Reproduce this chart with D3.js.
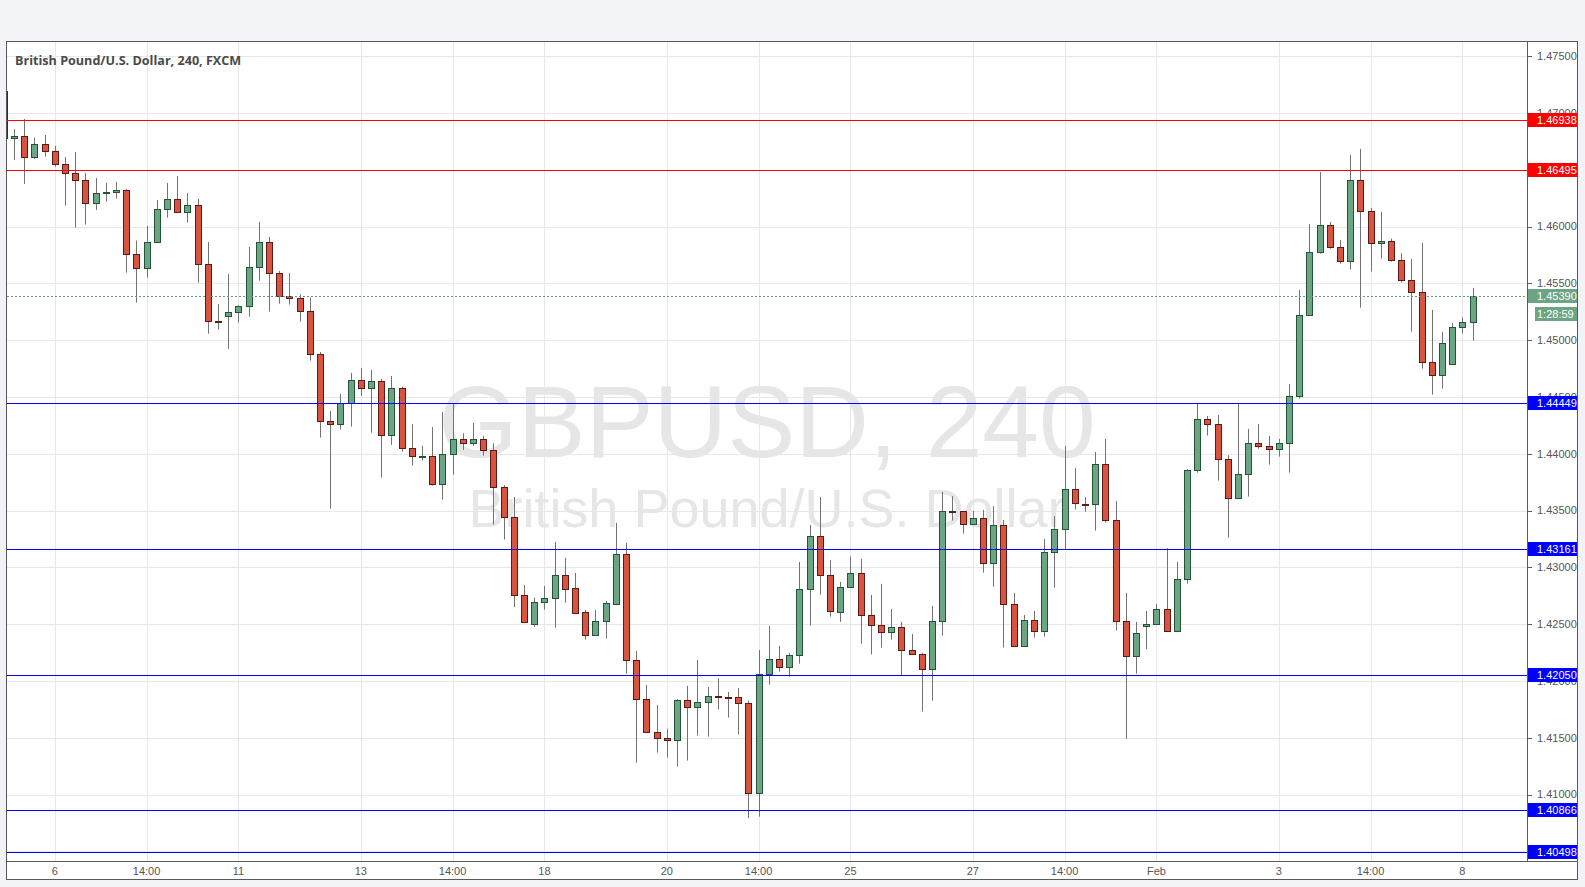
<!DOCTYPE html>
<html><head><meta charset="utf-8">
<script src="https://cdn.jsdelivr.net/npm/d3@7"></script>
<style>
html,body{margin:0;padding:0;background:#f2f3f6;}
svg{display:block;}
</style></head><body>
<svg id="chart" width="1585" height="887"></svg>
<script>
// ---------------- DATA ----------------
const title = "British Pound/U.S. Dollar, 240, FXCM";
const watermark1 = "GBPUSD, 240";
const watermark2 = "British Pound/U.S. Dollar";
const firstIndex = -1; // first (partly hidden) bar index

const opens = [1.47193,1.46777,1.46797,1.46610,1.46724,1.46663,1.46548,1.46469,1.46407,1.46205,1.46293,1.46302,1.46319,1.45756,1.45633,1.45862,1.46152,1.46240,1.46126,1.46187,1.45668,1.45167,1.45211,1.45246,1.45299,1.45642,1.45862,1.45589,1.45387,1.45369,1.45255,1.44876,1.44287,1.44260,1.44445,1.44650,1.44577,1.44639,1.44163,1.44577,1.44049,1.43979,1.43979,1.43737,1.43996,1.44128,1.44093,1.44128,1.44031,1.43706,1.43442,1.42755,1.42500,1.42694,1.42729,1.42931,1.42817,1.42606,1.42409,1.42527,1.42681,1.43119,1.42183,1.41840,1.41550,1.41497,1.41479,1.41831,1.41770,1.41814,1.41867,1.41860,1.41858,1.41805,1.41013,1.42060,1.42192,1.42122,1.42227,1.42808,1.43275,1.42931,1.42606,1.42826,1.42949,1.42579,1.42491,1.42430,1.42474,1.42271,1.42236,1.42104,1.42527,1.43495,1.43495,1.43380,1.43433,1.43037,1.43371,1.42679,1.42307,1.42535,1.42439,1.43134,1.43336,1.43688,1.43561,1.43556,1.43908,1.43415,1.42527,1.42219,1.42483,1.42500,1.42632,1.42439,1.42896,1.43855,1.44304,1.44260,1.43952,1.43609,1.43820,1.44093,1.44067,1.44045,1.44093,1.44507,1.45219,1.45774,1.46011,1.45818,1.45695,1.46407,1.46135,1.45853,1.45871,1.45703,1.45527,1.45422,1.44806,1.44691,1.44788,1.45114,1.45158];
const highs = [1.47210,1.46859,1.46947,1.46782,1.46806,1.46709,1.46612,1.46656,1.46472,1.46428,1.46384,1.46392,1.46331,1.45876,1.46005,1.46234,1.46384,1.46445,1.46296,1.46243,1.45864,1.45319,1.45583,1.45307,1.45820,1.46040,1.45908,1.45609,1.45592,1.45404,1.45374,1.44896,1.44377,1.44527,1.44712,1.44756,1.44738,1.44659,1.44685,1.44591,1.44260,1.44069,1.44236,1.44368,1.44445,1.44181,1.44272,1.44157,1.44093,1.43723,1.43620,1.42846,1.42734,1.42837,1.43224,1.43084,1.42952,1.42626,1.42626,1.42705,1.43392,1.43216,1.42265,1.41966,1.41790,1.41579,1.41840,1.41957,1.42186,1.41948,1.42025,1.41904,1.41940,1.41828,1.42274,1.42485,1.42309,1.42245,1.43048,1.43374,1.43620,1.43066,1.42872,1.43095,1.43075,1.42758,1.42855,1.42635,1.42520,1.42415,1.42250,1.42661,1.43664,1.43627,1.43495,1.43497,1.43506,1.43539,1.43418,1.42776,1.42582,1.42617,1.43251,1.43451,1.44069,1.43876,1.43620,1.44016,1.44131,1.43585,1.42776,1.42520,1.42617,1.42679,1.43169,1.43048,1.43864,1.44445,1.44333,1.44342,1.43987,1.44445,1.44219,1.44263,1.44157,1.44131,1.44615,1.45442,1.46023,1.46480,1.46040,1.45882,1.46630,1.46683,1.46164,1.46128,1.45893,1.45765,1.45715,1.45856,1.45266,1.45072,1.45152,1.45202,1.45460];
const lows = [1.46760,1.46586,1.46375,1.46595,1.46615,1.46527,1.46184,1.45990,1.46017,1.46146,1.46219,1.46245,1.45594,1.45330,1.45550,1.45862,1.46078,1.46126,1.46034,1.45506,1.45057,1.45093,1.44923,1.45154,1.45207,1.45524,1.45251,1.45321,1.45313,1.45163,1.44820,1.44142,1.43517,1.44213,1.44239,1.44509,1.44186,1.43790,1.44078,1.44019,1.43896,1.43940,1.43720,1.43597,1.43817,1.44034,1.44069,1.43984,1.43377,1.43245,1.42650,1.42518,1.42476,1.42629,1.42470,1.42690,1.42602,1.42365,1.42400,1.42373,1.42673,1.42065,1.41282,1.41550,1.41370,1.41326,1.41247,1.41300,1.41520,1.41511,1.41749,1.41678,1.41529,1.40793,1.40807,1.41969,1.42083,1.42039,1.42153,1.42488,1.42761,1.42567,1.42520,1.42826,1.42329,1.42233,1.42294,1.42365,1.42051,1.42236,1.41731,1.41828,1.42400,1.43412,1.43297,1.43371,1.42954,1.42831,1.42294,1.42298,1.42307,1.42382,1.42391,1.42822,1.43160,1.43509,1.43491,1.43324,1.43394,1.42444,1.41491,1.42065,1.42280,1.42500,1.42439,1.42430,1.42857,1.43834,1.44160,1.43764,1.43262,1.43609,1.43623,1.44045,1.43905,1.43975,1.43834,1.44485,1.45219,1.45761,1.45805,1.45673,1.45621,1.45286,1.45603,1.45717,1.45691,1.45506,1.45075,1.44749,1.44521,1.44573,1.44788,1.45057,1.44996];
const closes = [1.46777,1.46797,1.46610,1.46724,1.46663,1.46548,1.46469,1.46407,1.46205,1.46293,1.46302,1.46319,1.45756,1.45633,1.45862,1.46152,1.46240,1.46126,1.46187,1.45668,1.45167,1.45160,1.45246,1.45301,1.45642,1.45862,1.45589,1.45387,1.45369,1.45255,1.44876,1.44287,1.44260,1.44445,1.44650,1.44577,1.44641,1.44163,1.44577,1.44049,1.43979,1.43981,1.43737,1.43996,1.44128,1.44093,1.44128,1.44031,1.43706,1.43442,1.42755,1.42518,1.42694,1.42729,1.42931,1.42813,1.42602,1.42409,1.42527,1.42685,1.43119,1.42183,1.41840,1.41550,1.41497,1.41479,1.41834,1.41770,1.41814,1.41867,1.41863,1.41858,1.41805,1.41013,1.42060,1.42192,1.42122,1.42227,1.42808,1.43275,1.42931,1.42615,1.42826,1.42949,1.42579,1.42491,1.42430,1.42474,1.42271,1.42236,1.42104,1.42527,1.43495,1.43491,1.43380,1.43433,1.43037,1.43371,1.42679,1.42307,1.42535,1.42439,1.43134,1.43336,1.43688,1.43565,1.43559,1.43908,1.43415,1.42527,1.42219,1.42421,1.42500,1.42632,1.42439,1.42896,1.43855,1.44304,1.44260,1.43952,1.43609,1.43820,1.44093,1.44067,1.44045,1.44093,1.44507,1.45219,1.45774,1.46011,1.45818,1.45695,1.46407,1.46135,1.45853,1.45871,1.45703,1.45527,1.45422,1.44806,1.44691,1.44973,1.45114,1.45158,1.45390];

const redLevels = [1.46938, 1.46495];
const blueLevels = [1.44449, 1.43161, 1.42050, 1.40866, 1.40498];
const lastPrice = 1.45390;
const countdownText = "1:28:59";

const priceTicks = [1.405,1.410,1.415,1.420,1.425,1.430,1.435,1.440,1.445,1.450,1.455,1.460,1.465,1.470,1.475];
const timeTickIndex = [4,13,22,34,43,52,64,73,82,94,103,112,124,133,142];
const timeTickLabels = ["6","14:00","11","13","14:00","18","20","14:00","25","27","14:00","Feb","3","14:00","8"];

// ---------------- LAYOUT ----------------
const plotL = 7, plotR = 1527, plotT = 42, plotB = 861, axisR = 1577, frameB = 880;
const svg = d3.select("#chart");

const x = d3.scaleLinear().domain([0, 143]).range([14, 1472.6]);
const y = d3.scaleLinear().domain([1.40416, 1.47624]).range([plotB, plotT]);

const bars = opens.map((o, k) => ({i: firstIndex + k, o, h: highs[k], l: lows[k], c: closes[k]}));

// frame
svg.append("rect").attr("x", 6.5).attr("y", 41.5).attr("width", axisR - 6).attr("height", frameB - 42)
  .attr("fill", "#ffffff").attr("stroke", "#5a5a5a");

const defs = svg.append("defs");
defs.append("clipPath").attr("id", "plotClip").append("rect")
  .attr("x", plotL).attr("y", plotT).attr("width", plotR - plotL).attr("height", plotB - plotT);

const plot = svg.append("g").attr("clip-path", "url(#plotClip)");

// grid
plot.selectAll("line.hg").data(priceTicks).join("line").attr("class", "hg")
  .attr("x1", plotL).attr("x2", plotR)
  .attr("y1", d => Math.round(y(d)) + 0.5).attr("y2", d => Math.round(y(d)) + 0.5)
  .attr("stroke", "#e7e7e7").attr("stroke-width", 1);
plot.selectAll("line.vg").data(timeTickIndex).join("line").attr("class", "vg")
  .attr("x1", d => Math.round(x(d)) + 0.5).attr("x2", d => Math.round(x(d)) + 0.5)
  .attr("y1", plotT).attr("y2", plotB)
  .attr("stroke", "#e7e7e7").attr("stroke-width", 1);

// watermark
const cx = (plotL + plotR) / 2;
plot.append("text").attr("x", cx).attr("y", 457).attr("text-anchor", "middle")
  .attr("font-family", "Liberation Sans, Arial, sans-serif").attr("font-size", 102)
  .attr("fill", "#e6e6e6").text(watermark1);
plot.append("text").attr("x", cx).attr("y", 527).attr("text-anchor", "middle")
  .attr("font-family", "Liberation Sans, Arial, sans-serif").attr("font-size", 54)
  .attr("fill", "#e6e6e6").text(watermark2);

// candles
const upFill = "#6ba583", upLine = "#225437", dnFill = "#d75442", dnLine = "#5b1a13", wick = "#737375";
const cg = plot.append("g");
cg.selectAll("line.wick").data(bars).join("line").attr("class", "wick")
  .attr("x1", d => Math.round(x(d.i)) + 0.5).attr("x2", d => Math.round(x(d.i)) + 0.5)
  .attr("y1", d => y(d.h)).attr("y2", d => y(d.l))
  .attr("stroke", wick).attr("stroke-width", 1);
cg.selectAll("rect.body").data(bars).join("rect").attr("class", "body")
  .attr("x", d => Math.round(x(d.i)) - 2.5)
  .attr("width", 6)
  .attr("y", d => Math.round(y(Math.max(d.o, d.c))) + 0.5)
  .attr("height", d => Math.max(1, Math.round(y(Math.min(d.o, d.c))) - Math.round(y(Math.max(d.o, d.c)))))
  .attr("fill", d => d.c >= d.o ? upFill : dnFill)
  .attr("stroke", d => d.c >= d.o ? upLine : dnLine)
  .attr("stroke-width", 1);

// last price dotted line
plot.append("line").attr("x1", plotL).attr("x2", plotR)
  .attr("y1", Math.round(y(lastPrice)) + 0.5).attr("y2", Math.round(y(lastPrice)) + 0.5)
  .attr("stroke", "#5f9c7b").attr("stroke-dasharray", "2,2").attr("stroke-width", 1);

// level lines
plot.selectAll("line.red").data(redLevels).join("line").attr("class", "red")
  .attr("x1", plotL).attr("x2", plotR)
  .attr("y1", d => Math.round(y(d)) + 0.5).attr("y2", d => Math.round(y(d)) + 0.5)
  .attr("stroke", "#ff0000").attr("stroke-width", 1);
plot.selectAll("line.blue").data(blueLevels).join("line").attr("class", "blue")
  .attr("x1", plotL).attr("x2", plotR)
  .attr("y1", d => Math.round(y(d)) + 0.5).attr("y2", d => Math.round(y(d)) + 0.5)
  .attr("stroke", "#0000ff").attr("stroke-width", 1);

// separators
svg.append("line").attr("x1", plotR + 0.5).attr("x2", plotR + 0.5).attr("y1", 41.5).attr("y2", plotB + 0.5)
  .attr("stroke", "#5a5a5a");
svg.append("line").attr("x1", 6.5).attr("x2", axisR + 0.5).attr("y1", plotB + 0.5).attr("y2", plotB + 0.5)
  .attr("stroke", "#5a5a5a");

// price axis
const axisFont = "Liberation Sans, Arial, sans-serif";
const pa = svg.append("g");
pa.selectAll("line.pt").data(priceTicks).join("line").attr("class", "pt")
  .attr("x1", plotR + 1).attr("x2", plotR + 5)
  .attr("y1", d => Math.round(y(d)) + 0.5).attr("y2", d => Math.round(y(d)) + 0.5)
  .attr("stroke", "#5a5a5a");
pa.selectAll("text.pl").data(priceTicks).join("text").attr("class", "pl")
  .attr("x", plotR + 10).attr("y", d => y(d)).attr("dy", "0.35em")
  .attr("font-family", axisFont).attr("font-size", 11).attr("fill", "#555555")
  .text(d => d3.format(".5f")(d));

function labelBox(price, color, text, yOff, xStart) {
  const py = y(price) + yOff;
  pa.append("rect").attr("x", xStart).attr("y", Math.round(py) - 7).attr("width", axisR - xStart).attr("height", 14)
    .attr("fill", color);
  if (yOff === 0) {
    pa.append("line").attr("x1", plotR + 1).attr("x2", xStart).attr("y1", Math.round(y(price)) + 0.5).attr("y2", Math.round(y(price)) + 0.5)
      .attr("stroke", color);
  }
  pa.append("text").attr("x", plotR + 10).attr("y", Math.round(py)).attr("dy", "0.36em")
    .attr("font-family", axisFont).attr("font-size", 11).attr("fill", "#ffffff").text(text);
}
redLevels.forEach(p => labelBox(p, "#ff0000", d3.format(".5f")(p), 0, plotR + 1));
blueLevels.forEach(p => labelBox(p, "#0000ff", d3.format(".5f")(p), 0, plotR + 1));
labelBox(lastPrice, "#6ba583", d3.format(".5f")(lastPrice), 0, plotR + 1);
labelBox(lastPrice, "#6ba583", countdownText, 18, plotR + 8);

// time axis
svg.selectAll("text.tl").data(timeTickIndex).join("text").attr("class", "tl")
  .attr("x", d => x(d)).attr("y", 871).attr("dy", "0.35em").attr("text-anchor", "middle")
  .attr("font-family", axisFont).attr("font-size", 11).attr("fill", "#555555")
  .text((d, k) => timeTickLabels[k]);

// title
svg.append("text").attr("x", 15).attr("y", 64.5)
  .attr("font-family", "Open Sans, sans-serif").attr("font-weight", 700).attr("font-size", 12.6)
  .attr("fill", "#4a4a4a").text(title);
</script>
</body></html>
